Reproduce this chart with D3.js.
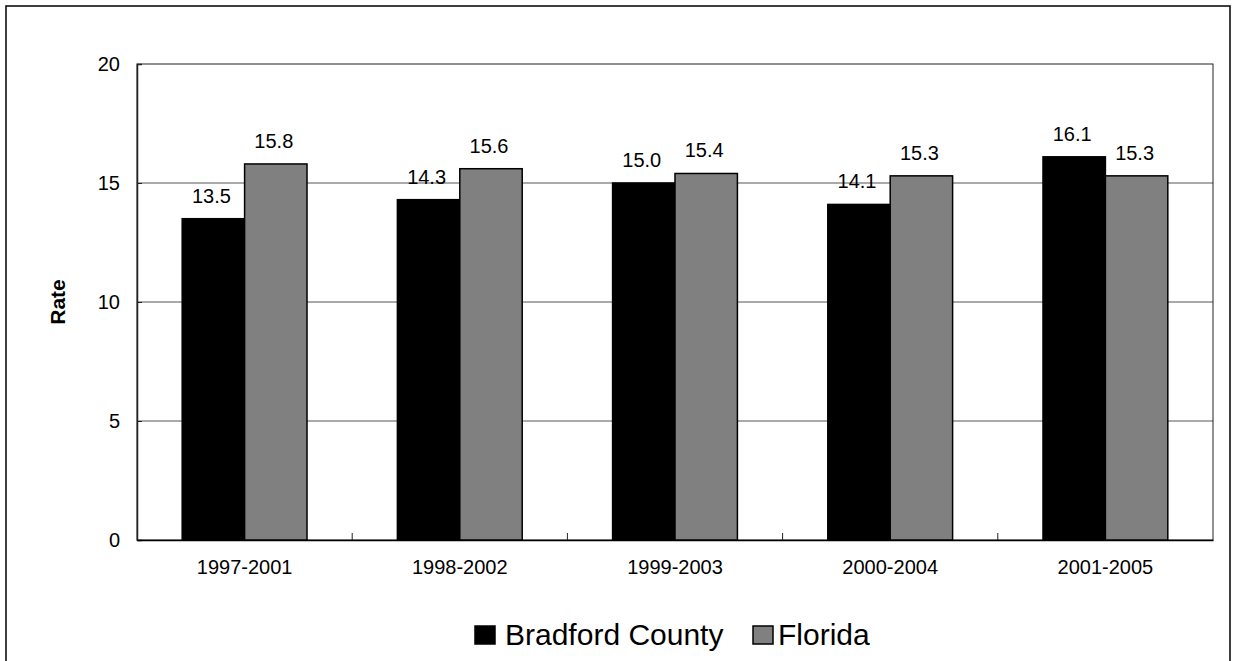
<!DOCTYPE html>
<html>
<head>
<meta charset="utf-8">
<script src="https://cdn.jsdelivr.net/npm/d3@7"></script>
<style>
  html, body { margin: 0; padding: 0; background: #fff; }
  svg { display: block; font-family: "Liberation Sans", Arial, sans-serif; }
</style>
</head>
<body>
<script>
const categories = ["1997-2001", "1998-2002", "1999-2003", "2000-2004", "2001-2005"];
const seriesNames = ["Bradford County", "Florida"];
const bradford = [13.5, 14.3, 15.0, 14.1, 16.1];
const florida = [15.8, 15.6, 15.4, 15.3, 15.3];
const yTicks = [0, 5, 10, 15, 20];
const colors = ["#000000", "#808080"];

const W = 1233, H = 661;
const plot = { left: 137, top: 64, right: 1213, bottom: 540 };

const svg = d3.select("body").append("svg").attr("width", W).attr("height", H);

// outer frame
svg.append("rect").attr("x", 6).attr("y", 6).attr("width", 1224).attr("height", 720)
  .attr("fill", "none").attr("stroke", "#000").attr("stroke-width", 1.5);

const x0 = d3.scaleBand().domain(categories).range([plot.left, plot.right]).paddingInner(0).paddingOuter(0);
const y = d3.scaleLinear().domain([0, 20]).range([plot.bottom, plot.top]);
const barW = x0.bandwidth() * 0.29;

// gridlines
svg.append("g").selectAll("line").data(yTicks.filter(t => t > 0 && t < 20)).join("line")
  .attr("x1", plot.left).attr("x2", plot.right)
  .attr("y1", d => y(d)).attr("y2", d => y(d))
  .attr("stroke", "#555").attr("stroke-width", 1);

// plot frame
svg.append("rect").attr("x", plot.left).attr("y", plot.top)
  .attr("width", plot.right - plot.left).attr("height", plot.bottom - plot.top)
  .attr("fill", "none").attr("stroke", "#222").attr("stroke-width", 1);

// y axis
const yAxis = d3.axisLeft(y).tickValues(yTicks).tickSize(-5).tickPadding(17);
const gy = svg.append("g").attr("transform", `translate(${plot.left},0)`).call(yAxis);
gy.select(".domain").attr("stroke", "#222").attr("stroke-width", 1.5);
gy.selectAll(".tick line").attr("stroke", "#222");
gy.selectAll(".tick text").attr("font-size", 20).attr("fill", "#000")
  .attr("font-family", "Liberation Sans, Arial, sans-serif");

// x axis
const xAxis = d3.axisBottom(x0).tickSize(0).tickPadding(20);
const gx = svg.append("g").attr("transform", `translate(0,${plot.bottom})`).call(xAxis);
gx.select(".domain").attr("stroke", "#000").attr("stroke-width", 1.5);
gx.selectAll(".tick text").attr("font-size", 20).attr("fill", "#000")
  .attr("font-family", "Liberation Sans, Arial, sans-serif");
// category boundary ticks (inside)
svg.append("g").selectAll("line").data(categories.slice(1)).join("line")
  .attr("x1", d => x0(d)).attr("x2", d => x0(d))
  .attr("y1", plot.bottom).attr("y2", plot.bottom - 7)
  .attr("stroke", "#222").attr("stroke-width", 1);

// bars
const data = categories.map((c, i) => ({ c, vals: [bradford[i], florida[i]] }));
const groups = svg.append("g").selectAll("g").data(data).join("g");
groups.each(function(d) {
  const cx = x0(d.c) + x0.bandwidth() / 2;
  const g = d3.select(this);
  d.vals.forEach((v, k) => {
    const bx = cx - barW + k * barW;
    g.append("rect").attr("x", bx).attr("y", y(v))
      .attr("width", barW).attr("height", y(0) - y(v))
      .attr("fill", colors[k]).attr("stroke", "#000").attr("stroke-width", 1.5);
    g.append("text").attr("x", bx + barW / 2 - 2).attr("y", y(v) - 16)
      .attr("text-anchor", "middle").attr("font-size", 20).attr("fill", "#000")
      .text(v.toFixed(1));
  });
});

// y title
svg.append("text").attr("transform", `translate(65,${(plot.top + plot.bottom) / 2}) rotate(-90)`)
  .attr("text-anchor", "middle").attr("font-size", 21).attr("font-weight", "bold")
  .text("Rate");

// legend
const legend = svg.append("g");
const legItems = [
  { name: seriesNames[0], sx: 475, tx: 505 },
  { name: seriesNames[1], sx: 753, tx: 778 }
];
legItems.forEach((it, k) => {
  legend.append("rect").attr("x", it.sx).attr("y", 626).attr("width", 20).attr("height", 18)
    .attr("fill", colors[k]).attr("stroke", "#000").attr("stroke-width", 1.5);
  legend.append("text").attr("x", it.tx).attr("y", 645).attr("font-size", 30).attr("fill", "#000")
    .text(it.name);
});
</script>
</body>
</html>
